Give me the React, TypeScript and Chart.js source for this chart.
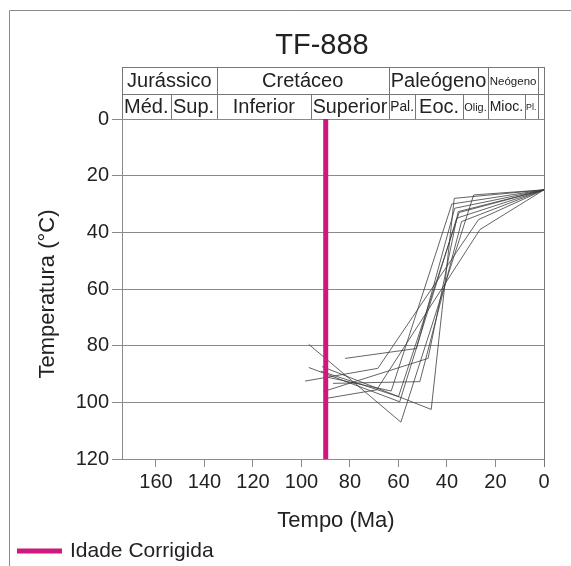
import React, { useEffect, useRef } from "react";
import { Chart, registerables } from "chart.js";

Chart.register(...registerables);

// ---- data ----
const chartTitle = "TF-888";
const xTicks = [160, 140, 120, 100, 80, 60, 40, 20, 0];
const yTicks = [0, 20, 40, 60, 80, 100, 120];
const xMax = 174;
const correctedAge = 90;

// thermal history paths (age Ma, temperature °C)
const agesA = [97, 59, 29, 0];
const tempsA = [79.5, 107, 26.8, 25];
const agesB = [97, 59.5, 36, 0];
const tempsB = [87.7, 99.8, 35, 25];
const agesC = [98.5, 68.5, 27, 0];
const tempsC = [92.5, 88, 35.5, 25];
const agesD = [91.5, 46.5, 37, 0];
const tempsD = [87.4, 102.5, 28, 25];
const agesE = [91, 47.8, 35.4, 0];
const tempsE = [96.2, 84.5, 32.7, 25];
const agesF = [89.8, 69, 26.4, 0];
const tempsF = [98.6, 95.6, 39, 25];
const agesG = [82, 52.6, 36.8, 0];
const tempsG = [84.5, 81, 31.5, 25];
const agesH = [87, 51.2, 34, 0];
const tempsH = [93.3, 92.7, 36.2, 25];
const agesI = [92, 60, 35, 0];
const tempsI = [89, 98, 33, 25];
const agesJ = [90, 63, 38, 0];
const tempsJ = [91, 96, 30, 25];

const paths = [
  [agesA, tempsA], [agesB, tempsB], [agesC, tempsC], [agesD, tempsD], [agesE, tempsE],
  [agesF, tempsF], [agesG, tempsG], [agesH, tempsH], [agesI, tempsI], [agesJ, tempsJ],
];

// geologic time header
const periodNames = ["Jurássico", "Cretáceo", "Paleógeno", "Neógeno", ""];
const periodBounds = [174, 135, 64, 23, 2.5, 0];
const epochNames = ["Méd.", "Sup.", "Inferior", "Superior", "Pal.", "Eoc.", "Olig.", "Mioc.", "Pl.", ""];
const epochBounds = [174, 154, 135, 96, 64, 53, 33.5, 23, 8, 2.5, 0];

const FONT = "'Liberation Sans', Arial, sans-serif";
const LINE = "#8a8a8a";
const TEXT = "#222";
const MAGENTA = "#d0187c";

const decor = {
  id: "decor",
  afterDraw(chart: any) {
    const ctx = chart.ctx;
    const xs = chart.scales.x;
    const area = chart.chartArea;
    const tTop = 67, tMid = 94, tBot = area.top;
    ctx.save();
    // outer frame
    ctx.strokeStyle = LINE;
    ctx.lineWidth = 1;
    ctx.beginPath();
    ctx.moveTo(9.5, 566);
    ctx.lineTo(9.5, 10.5);
    ctx.lineTo(571, 10.5);
    ctx.stroke();

    // title
    ctx.fillStyle = TEXT;
    ctx.font = `29px ${FONT}`;
    ctx.textAlign = "center";
    ctx.textBaseline = "middle";
    ctx.fillText(chartTitle, 322, 46);

    // header table
    ctx.strokeStyle = "#777";
    ctx.beginPath();
    ctx.moveTo(area.left, tTop + 0.5);
    ctx.lineTo(area.right, tTop + 0.5);
    ctx.moveTo(area.left, tMid + 0.5);
    ctx.lineTo(area.right, tMid + 0.5);
    ctx.moveTo(area.right + 0.5, tTop);
    ctx.lineTo(area.right + 0.5, area.bottom + 8);
    ctx.moveTo(area.left + 0.5, tTop);
    ctx.lineTo(area.left + 0.5, tBot);
    periodBounds.forEach((b) => {
      const px = Math.round(xs.getPixelForValue(b)) + 0.5;
      ctx.moveTo(px, tTop);
      ctx.lineTo(px, tMid);
    });
    epochBounds.forEach((b) => {
      const px = Math.round(xs.getPixelForValue(b)) + 0.5;
      ctx.moveTo(px, tMid);
      ctx.lineTo(px, tBot);
    });
    ctx.stroke();

    const drawCell = (name: string, a: number, b: number, y0: number, y1: number) => {
      if (!name) return;
      const x0 = xs.getPixelForValue(a);
      const x1 = xs.getPixelForValue(b);
      const w = x1 - x0 - 3;
      let size = 20;
      ctx.font = `${size}px ${FONT}`;
      const tw = ctx.measureText(name).width;
      if (tw > w) size = Math.max(8, (size * w) / tw);
      ctx.font = `${size}px ${FONT}`;
      ctx.fillStyle = TEXT;
      ctx.textAlign = "center";
      ctx.textBaseline = "middle";
      ctx.fillText(name, (x0 + x1) / 2, (y0 + y1) / 2 + 1);
    };
    periodNames.forEach((n, i) => drawCell(n, periodBounds[i], periodBounds[i + 1], tTop, tMid));
    epochNames.forEach((n, i) => drawCell(n, epochBounds[i], epochBounds[i + 1], tMid, tBot));

    // axis titles
    ctx.fillStyle = TEXT;
    ctx.font = `22px ${FONT}`;
    ctx.textAlign = "center";
    ctx.textBaseline = "middle";
    ctx.fillText("Tempo (Ma)", 336, 521);
    ctx.save();
    ctx.translate(48, 294);
    ctx.rotate(-Math.PI / 2);
    ctx.fillText("Temperatura (°C)", 0, 0);
    ctx.restore();

    // legend
    ctx.strokeStyle = MAGENTA;
    ctx.lineWidth = 5;
    ctx.beginPath();
    ctx.moveTo(17, 551);
    ctx.lineTo(62, 551);
    ctx.stroke();
    ctx.fillStyle = TEXT;
    ctx.font = `21px ${FONT}`;
    ctx.textAlign = "left";
    ctx.fillText("Idade Corrigida", 70, 551);
    ctx.restore();
  },
};

export default function App() {
  const ref = useRef<HTMLCanvasElement | null>(null);
  useEffect(() => {
    if (!ref.current) return;
    const datasets: any[] = [
      {
        label: "Idade Corrigida",
        data: [
          { x: correctedAge, y: 0 },
          { x: correctedAge, y: 120 },
        ],
        borderColor: MAGENTA,
        borderWidth: 5,
        pointRadius: 0,
        fill: false,
      },
      ...paths.map(([ages, temps], i) => ({
        label: `path${i}`,
        data: ages.map((a, j) => ({ x: a, y: temps[j] })),
        borderColor: "#3c3c3c",
        borderWidth: 0.8,
        pointRadius: 0,
        fill: false,
        tension: 0,
      })),
    ];
    const chart = new Chart(ref.current, {
      type: "line",
      data: { datasets },
      options: {
        responsive: false,
        animation: false,
        devicePixelRatio: 1,
        layout: { padding: { top: 119, right: 27, left: 0, bottom: 0 } },
        plugins: { legend: { display: false }, tooltip: { enabled: false }, title: { display: false } },
        scales: {
          x: {
            type: "linear",
            reverse: true,
            min: 0,
            max: xMax,
            afterBuildTicks: (s: any) => {
              s.ticks = xTicks.map((v) => ({ value: v }));
            },
            afterFit: (s: any) => {
              s.height = 107;
            },
            grid: { drawOnChartArea: false, tickLength: 8, color: LINE, lineWidth: 1 },
            border: { color: LINE, width: 1 },
            ticks: {
              font: { size: 20, family: FONT },
              color: TEXT,
              padding: 3,
              maxRotation: 0,
              autoSkip: false,
            },
          },
          y: {
            type: "linear",
            reverse: true,
            min: 0,
            max: 120,
            afterBuildTicks: (s: any) => {
              s.ticks = yTicks.map((v) => ({ value: v }));
            },
            afterFit: (s: any) => {
              s.width = 122;
            },
            grid: { tickLength: 10, color: LINE, lineWidth: 1 },
            border: { color: LINE, width: 1 },
            ticks: {
              font: { size: 20, family: FONT },
              color: TEXT,
              padding: 3,
              autoSkip: false,
            },
          },
        },
      } as any,
      plugins: [decor],
    });
    return () => chart.destroy();
  }, []);
  return (
    <div style={{ position: "fixed", left: 0, top: 0, width: 571, height: 566, background: "#fff" }}>
      <canvas ref={ref} width={571} height={566} />
    </div>
  );
}
